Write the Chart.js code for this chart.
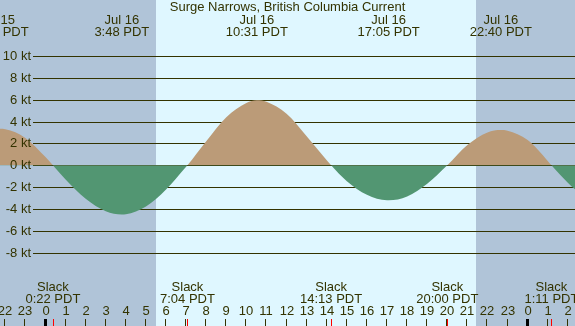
<!DOCTYPE html>
<html>
<head>
<meta charset="utf-8">
<script src="https://cdn.jsdelivr.net/npm/chart.js@4/dist/chart.umd.min.js"></script>
<style>
html,body{margin:0;padding:0;background:#dff7ff;}
#c{display:block;}
</style>
</head>
<body>
<canvas id="c" width="575" height="326"></canvas>
<script>
// ---- data (hours relative to Jul 16 00:00 PDT) ----
const curveHours = [-3, -2.383, -2, -1, 0, 0.367, 1, 2, 3, 3.8, 4, 5, 6, 7, 7.067, 8, 9, 10, 10.517, 11, 12, 13, 14, 14.217, 15, 16, 17, 17.083, 18, 19, 20, 21, 22, 22.667, 23, 24, 25, 25.183, 26, 26.36, 27];
const curveKnots = [3.2, 3.34, 3.3, 2.5, 0.75, 0, -1.29, -3.06, -4.2, -4.5, -4.48, -3.77, -2.21, -0.14, 0, 2.2, 4.4, 5.7, 5.95, 5.8, 4.7, 2.65, 0.45, 0, -1.45, -2.7, -3.2, -3.2, -2.85, -1.68, 0, 1.85, 3.0, 3.22, 3.16, 2.3, 0.4, 0, -1.6, -2.2, -3.0];

const extremeHours = [-2.383, 3.8, 10.517, 17.083, 22.667];
const extremeDates = ['Jul 15', 'Jul 16', 'Jul 16', 'Jul 16', 'Jul 16'];
const extremeTimes = ['21:37 PDT', '3:48 PDT', '10:31 PDT', '17:05 PDT', '22:40 PDT'];

const slackHours = [0.367, 7.067, 14.217, 20.0, 25.183];
const slackTimes = ['0:22 PDT', '7:04 PDT', '14:13 PDT', '20:00 PDT', '1:11 PDT'];

const yTickValues = [10, 8, 6, 4, 2, 0, -2, -4, -6, -8];
const hourTicks = [-2, -1, 0, 1, 2, 3, 4, 5, 6, 7, 8, 9, 10, 11, 12, 13, 14, 15, 16, 17, 18, 19, 20, 21, 22, 23, 24, 25, 26];
const hourLabels = ['22','23','0','1','2','3','4','5','6','7','8','9','10','11','12','13','14','15','16','17','18','19','20','21','22','23','0','1','2'];

const sunriseHours = [5.5];
const sunsetHours = [21.433];

const titleText = 'Surge Narrows, British Columbia Current';

// ---- styles ----
const TXT = '#333300';
const FONT = '13px "Liberation Sans", Arial, sans-serif';
const NIGHT = '#b0c4d8';
const DAY = '#dff7ff';
const FLOOD = '#bb9b78';
const EBB = '#529672';

const points = curveHours.map((h, i) => ({x: h, y: curveKnots[i]}));

const decor = {
  id: 'decor',
  beforeDraw(chart) {
    const {ctx, chartArea: a, scales: {x}} = chart;
    ctx.save();
    ctx.fillStyle = NIGHT;
    ctx.fillRect(0, 0, chart.width, chart.height);
    ctx.fillStyle = DAY;
    for (let i = 0; i < sunriseHours.length; i++) {
      const x0 = Math.round(x.getPixelForValue(sunriseHours[i]));
      const x1 = Math.round(x.getPixelForValue(sunsetHours[i]));
      ctx.fillRect(x0, 0, x1 - x0, chart.height);
    }
    ctx.restore();
  },
  beforeDatasetsDraw(chart) {
    const {ctx, scales: {y}} = chart;
    ctx.save();
    ctx.strokeStyle = TXT;
    ctx.lineWidth = 1;
    yTickValues.forEach(v => {
      const py = Math.round(y.getPixelForValue(v)) + 0.5;
      ctx.beginPath();
      ctx.moveTo(33, py);
      ctx.lineTo(chart.width, py);
      ctx.stroke();
    });
    ctx.restore();
  },
  afterDraw(chart) {
    const {ctx, scales: {x, y}} = chart;
    ctx.save();
    ctx.font = FONT;
    ctx.fillStyle = TXT;
    // y labels
    ctx.textAlign = 'right';
    ctx.textBaseline = 'middle';
    yTickValues.forEach(v => {
      ctx.fillText(v + ' kt', 31, y.getPixelForValue(v) + 0.5);
    });
    // title
    ctx.textAlign = 'center';
    ctx.textBaseline = 'alphabetic';
    ctx.fillText(titleText, chart.width / 2, 11);
    // extremes
    extremeHours.forEach((h, i) => {
      const px = x.getPixelForValue(h);
      ctx.fillText(extremeDates[i], px, 24);
      ctx.fillText(extremeTimes[i], px, 36);
    });
    // slacks
    slackHours.forEach((h, i) => {
      const px = x.getPixelForValue(h);
      ctx.fillText('Slack', px, 291);
      ctx.fillText(slackTimes[i], px, 303);
    });
    // hour labels + ticks
    hourTicks.forEach((h, i) => {
      const px = Math.round(x.getPixelForValue(h));
      ctx.fillStyle = TXT;
      ctx.fillText(hourLabels[i], px, 315);
      if (hourLabels[i] === '0') {
        ctx.fillStyle = '#000000';
        ctx.fillRect(px - 2, 319, 3, 7);
      } else {
        ctx.fillRect(px - 1, 319, 1, 7);
      }
    });
    ctx.fillStyle = '#ff0000';
    slackHours.forEach(h => {
      const px = Math.round(x.getPixelForValue(h));
      ctx.fillRect(px, 319, 1, 7);
    });
    ctx.restore();
  }
};

new Chart(document.getElementById('c'), {
  type: 'line',
  data: {
    datasets: [{
      data: points,
      borderWidth: 0,
      borderColor: 'rgba(0,0,0,0)',
      pointRadius: 0,
      cubicInterpolationMode: 'monotone',
      fill: {target: {value: 0}, above: FLOOD, below: EBB}
    }]
  },
  options: {
    responsive: false,
    animation: false,
    devicePixelRatio: 1,
    layout: {padding: 0},
    plugins: {legend: {display: false}, tooltip: {enabled: false}, title: {display: false}},
    scales: {
      x: {type: 'linear', min: -2.265, max: 26.357, display: false},
      y: {type: 'linear', min: -14.68, max: 15.1, display: false}
    }
  },
  plugins: [decor]
});
</script>
</body>
</html>
